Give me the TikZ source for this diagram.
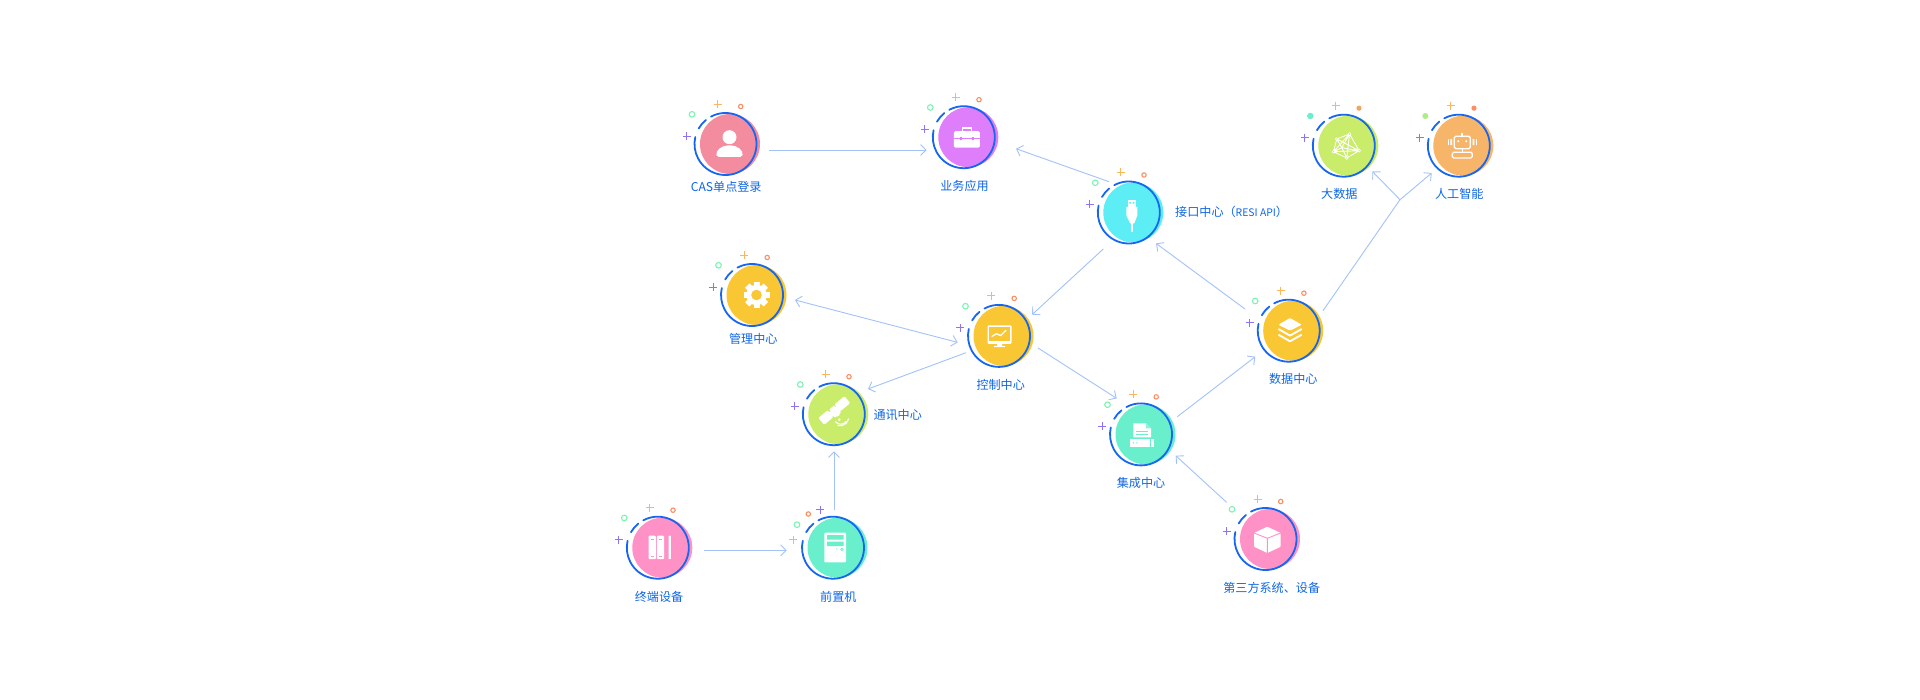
\documentclass[tikz,border=0pt]{standalone}
\usepackage{fontspec}
\setmainfont{Noto Sans CJK SC}
\usetikzlibrary{arrows.meta,calc}
\definecolor{ringblue}{HTML}{1766F0}
\definecolor{txtblue}{HTML}{0F66E8}
\definecolor{linkblue}{HTML}{A3C2FA}
\definecolor{decoyellow}{HTML}{FDB65A}
\definecolor{decoorange}{HTML}{FC8F62}
\definecolor{decogreen}{HTML}{7DF3B6}
\definecolor{decopurple}{HTML}{8E72F7}
\definecolor{cpink}{HTML}{F48CA0}
\definecolor{cviolet}{HTML}{DF7EFB}
\definecolor{ccyan}{HTML}{5DEDF5}
\definecolor{clime}{HTML}{C9EC6B}
\definecolor{capricot}{HTML}{F7B56A}
\definecolor{cgold}{HTML}{F9C733}
\definecolor{crose}{HTML}{FE92C6}
\definecolor{cmint}{HTML}{69EFCC}
\tikzset{
  hubcore/.style={circle,minimum size=62pt,inner sep=0pt,outer sep=0pt},
  hublabel/.style={text=txtblue,font=\fontsize{12.1pt}{14pt}\selectfont,inner sep=0pt},
  link/.style={draw=linkblue,line width=0.9pt,-{Straight Barb[length=5.5pt,width=11pt,line width=0.9pt]}},
  linkplain/.style={draw=linkblue,line width=0.9pt},
  linkboth/.style={draw=linkblue,line width=0.9pt,{Straight Barb[length=5.5pt,width=11pt,line width=0.9pt]}-{Straight Barb[length=5.5pt,width=11pt,line width=0.9pt]}},
  ringarc/.style={draw=ringblue,line width=1.8pt,line cap=round},
  iconline/.style={draw=white,line width=1.3pt,line cap=round,line join=round},
  plusmark/.style={line width=0.9pt}
}
\newcommand{\plusat}[3]{\draw[plusmark,#3] ($(#1,#2)+(-4,0)$) -- ($(#1,#2)+(4,0)$) ($(#1,#2)+(0,-4)$) -- ($(#1,#2)+(0,4)$);}
\newcommand{\decoStd}{%
  \plusat{-8}{-40}{decoyellow}
  \plusat{-39}{-8}{decopurple}
  \draw[decoorange,line width=1.1pt] (15.2,-37.5) circle[radius=2.2pt];
  \draw[decogreen,line width=1.1pt] (-33.5,-29.7) circle[radius=2.8pt];}
\newcommand{\decoFront}{%
  \plusat{-40}{-8}{decoyellow}
  \plusat{-13}{-38}{decopurple}
  \draw[decoorange,line width=1.1pt] (-24.7,-33.7) circle[radius=2.2pt];
  \draw[decogreen,line width=1.1pt] (-36,-23) circle[radius=2.8pt];}
\newcommand{\decoBig}{%
  \plusat{-8}{-40}{decoyellow}
  \plusat{-39}{-8}{decopurple}
  \fill[decoorange!75!clime] (15.2,-37.5) circle[radius=2.6pt];
  \fill[cmint] (-33.5,-29.7) circle[radius=3.2pt];}
\newcommand{\decoBot}{%
  \plusat{-8}{-40}{decoyellow}
  \plusat{-39}{-8}{decopurple}
  \fill[decoorange] (15.2,-37.5) circle[radius=2.6pt];
  \fill[clime!70!cmint] (-33.5,-29.7) circle[radius=3pt];}
\newcommand{\hub}[6]{%
  \node[hubcore] (#1) at (#2,#3) {};
  \begin{scope}[shift={(#1)}]
    \colorlet{hubcol}{#4}
    #5
    \fill[hubcol] (4.5,0) circle[radius=30pt];
    \draw[ringarc] (118:31pt) arc[start angle=118,end angle=-193,radius=31pt];
    \draw[ringarc] (150:31pt) arc[start angle=150,end angle=129,radius=31pt];
    #6
  \end{scope}}
\newcommand{\icoPerson}{%
  \fill[white] (4,-6.8) circle[radius=7pt];
  \fill[white,rounded corners=2pt] (-8.8,13) .. controls (-10,6) and (-3,1.5) .. (4,1.5) .. controls (11,1.5) and (18,6) .. (16.8,13) -- cycle;}
\newcommand{\icoCase}{%
  \draw[white,line width=1.6pt] (-1.5,-6) -- (-1.5,-9) -- (7.5,-9) -- (7.5,-6);
  \fill[white,rounded corners=1.5pt] (-10,-6) rectangle (16,10.5);
  \draw[hubcol,line width=1pt] (-10,1.5) -- (16,1.5);
  \fill[hubcol] (-4,0) rectangle (-2,3) (8,0) rectangle (10,3);}
\newcommand{\icoUsb}{%
  \fill[white] (-1,-12) rectangle (7,-5.5);
  \fill[hubcol] (0.5,-10.5) rectangle (2.1,-8.8) (3.9,-10.5) rectangle (5.5,-8.8);
  \fill[white] (-2.5,-5.5) -- (8.5,-5.5) -- (8.5,3) -- (5.5,11) -- (1.5,11) -- (-2.5,3) -- cycle;
  \fill[white] (1.7,10) rectangle (4.3,20);}
\newcommand{\icoNet}{%
  \coordinate (p1) at (5.7,-11.7); \coordinate (p2) at (-7,-6.7); \coordinate (p3) at (-10.3,6);
  \coordinate (p4) at (3,12.3); \coordinate (p5) at (15.3,5); \coordinate (p6) at (-2,2);
  \draw[iconline,line width=0.9pt] (p1)--(p2)--(p3)--(p4)--(p5)--cycle (p6)--(p1) (p6)--(p2) (p6)--(p3) (p6)--(p5) (p6)--(p4) (p1)--(p3) (p1)--(p4) (p2)--(p5) (p3)--(p5);
  \foreach \q in {p1,p2,p3,p4,p5}{\fill[white] (\q) circle[radius=1.9pt];\fill[hubcol] (\q) circle[radius=0.8pt];}}
\newcommand{\icoBot}{%
  \draw[iconline,rounded corners=1.5pt] (-4.5,-9.5) rectangle (11.5,3);
  \fill[white] (-0.6,-4.5) circle[radius=1.1pt] (7.4,-4.5) circle[radius=1.1pt];
  \fill[white] (2.5,-12.5) rectangle (4.5,-10);
  \draw[iconline] (3.5,3.5) -- (3.5,6.5);
  \draw[iconline,rounded corners=1.5pt] (-6.5,6.5) rectangle (13.5,12.3);
  \fill[white] (-8.5,-6.5) rectangle (-6.7,-0.5) (13.7,-6.5) rectangle (15.5,-0.5);
  \draw[iconline,line width=0.9pt] (-10.3,-6) -- (-10.3,-1) (17.3,-6) -- (17.3,-1);}
\newcommand{\icoGear}{%
  \foreach \a in {0,45,...,315}{\fill[white,rotate around={\a:(4.5,0)}] (1.5,-13) rectangle (7.5,13);}
  \fill[white] (4.5,0) circle[radius=10.2pt];
  \fill[hubcol] (4.5,0) circle[radius=5.3pt];}
\newcommand{\icoScreen}{%
  \fill[white,rounded corners=1pt] (-11.5,-10.5) rectangle (12.5,8);
  \fill[hubcol] (-9.7,-8.7) rectangle (10.7,5);
  \draw[iconline] (-7,0.5) -- (-2.5,-2.2) -- (1.5,-0.3) -- (7,-5.5);
  \fill[white] (-2,8) rectangle (3,10) (-5,10) rectangle (6,11.2);}
\newcommand{\icoSat}{%
  \begin{scope}[shift={(0.5,-3.7)},rotate=40]
    \fill[white,rounded corners=1pt] (-17,-4.5) rectangle (-5,4.5);
    \fill[white,rounded corners=1pt] (4,-4.5) rectangle (17,4.5);
    \fill[white] (-6,-2) rectangle (5,2);
    \fill[white] (-3,-4) rectangle (3,1);
    \fill[white] (-5.5,1.5) arc[start angle=180,end angle=360,radius=5.5pt] -- cycle;
  \end{scope}
  \draw[white,line width=1.1pt] (1.5,7.3) arc[start angle=215,end angle=330,radius=6.5pt];
  \draw[white,line width=1.1pt] (3.5,11.5) arc[start angle=255,end angle=350,radius=9pt];
  \fill[white] (5.5,5.5) circle[radius=1.4pt];}
\newcommand{\icoRacks}{%
  \fill[white,rounded corners=1pt] (-9.3,-12) rectangle (-2,11.5);
  \fill[white,rounded corners=1pt] (-1,-12) rectangle (6.3,11.5);
  \fill[white,rounded corners=0.6pt] (10.7,-12) rectangle (13,11.5);
  \draw[hubcol,line width=0.5pt] (-7,-8.5) -- (-4,-8.5) (1,-8.5) -- (4,-8.5) (-7,8.5) -- (-4,8.5) (1,8.5) -- (4,8.5);}
\newcommand{\icoTower}{%
  \fill[white,rounded corners=1pt] (-8.7,-15) rectangle (13,14.7);
  \fill[hubcol] (-6,-12.5) rectangle (10.5,-8) (-6,-6) rectangle (10.5,-1.5);
  \fill[hubcol] (3.7,1.3) circle[radius=0.7pt];
  \draw[hubcol,line width=0.7pt] (9,1.7) circle[radius=1.3pt];}
\newcommand{\icoLayers}{%
  \fill[white,rounded corners=1pt] (1.3,-12.7) -- (13,-6) -- (1.3,0) -- (-10.3,-6) -- cycle;
  \draw[iconline,line width=1.9pt,line cap=butt] (-10.3,-1.7) -- (1.3,4.9) -- (13,-1.7);
  \draw[iconline,line width=1.9pt,line cap=butt] (-10.3,4) -- (1.3,10.6) -- (13,4);}
\newcommand{\icoFax}{%
  \fill[white] (-7.7,-11) -- (5,-11) -- (10,-6) -- (10,3) -- (-7.7,3) -- cycle;
  \fill[hubcol!75!white] (5,-11) -- (5,-6) -- (10,-6) -- cycle;
  \draw[hubcol,line width=0.6pt] (-5,-3) -- (7,-3) (-5,-0.5) -- (7,-0.5);
  \fill[white] (-11,4.7) rectangle (13,13);
  \fill[hubcol] (-7.5,8.5) circle[radius=0.8pt] (-4,8.5) circle[radius=0.8pt];
  \fill[hubcol] (8.7,4.7) rectangle (9.2,13);}
\newcommand{\icoCube}{%
  \fill[white,rounded corners=0.8pt] (1.8,-12.3) -- (15.2,-6) -- (15.2,7.7) -- (1.8,14) -- (-11.5,7.7) -- (-11.5,-6) -- cycle;
  \draw[hubcol,line width=0.9pt] (-11.5,-6) -- (1.8,-0.7) -- (15.2,-6) (1.8,-0.7) -- (1.8,14);}
\begin{document}
\begin{tikzpicture}[x=1pt,y=-1pt]
\useasboundingbox (0,0) rectangle (1920,700);
\fill[white] (0,0) rectangle (1920,700);
\begin{scope}[shift={(0,0.7)}]
\hub{cas}{725.5}{143.3}{cpink}{\decoStd}{\icoPerson}
\hub{biz}{963.8}{136.5}{cviolet}{\decoStd}{\icoCase}
\hub{api}{1128.8}{211.8}{ccyan}{\decoStd}{\icoUsb}
\hub{big}{1343.8}{145}{clime}{\decoBig}{\icoNet}
\hub{ai}{1458.8}{145}{capricot}{\decoBot}{\icoBot}
\hub{mgmt}{752}{294.3}{cgold}{\decoStd}{\icoGear}
\hub{ctrl}{999}{335.2}{cgold}{\decoStd}{\icoScreen}
\hub{comm}{833.8}{413.5}{clime}{\decoStd}{\icoSat}
\hub{term}{657.8}{547}{crose}{\decoStd}{\icoRacks}
\hub{front}{833}{547}{cmint}{\decoFront}{\icoTower}
\hub{data}{1288.7}{330}{cgold}{\decoStd}{\icoLayers}
\hub{integ}{1141}{433.7}{cmint}{\decoStd}{\icoFax}
\hub{third}{1265.5}{538.3}{crose}{\decoStd}{\icoCube}
\end{scope}
\node[hublabel] (lcas) at (726.2,187) {CAS单点登录};
\node[hublabel] (lbiz) at (964.5,186) {业务应用};
\node[hublabel,anchor=west] (lapi) at (1175,212) {接口中心（{\fontsize{10.4pt}{14pt}\selectfont RESI API}）};
\node[hublabel] (lbig) at (1339.3,194) {大数据};
\node[hublabel] (lai) at (1459.3,194) {人工智能};
\node[hublabel] (lmgmt) at (753.3,338.7) {管理中心};
\node[hublabel] (lctrl) at (1000.7,385) {控制中心};
\node[hublabel] (lcomm) at (897.7,415) {通讯中心};
\node[hublabel] (lterm) at (659,597.3) {终端设备};
\node[hublabel] (lfront) at (838.3,597.3) {前置机};
\node[hublabel] (ldata) at (1293.3,378.7) {数据中心};
\node[hublabel] (linteg) at (1141,482.7) {集成中心};
\node[hublabel] (lthird) at (1271.7,588) {第三方系统、设备};
\coordinate (fork) at (1400,199.7);
\draw[link] ($(cas)+(43.8,6)$) -- ($(biz)+(-37.1,12.8)$);
\draw[link] ($(api)+(-19.8,-30.8)$) -- ($(biz)+(52.2,11.5)$);
\draw[link] ($(api)+(-25.5,36.5)$) -- ($(ctrl)+(33,-21.2)$);
\draw[link] ($(data)+(-43.7,-21.7)$) -- ($(api)+(27.2,30.9)$);
\draw[linkboth] ($(mgmt)+(43,5)$) -- ($(ctrl)+(-41.3,6.5)$);
\draw[link] ($(ctrl)+(-33,16.8)$) -- ($(comm)+(34.2,-25.2)$);
\draw[link] ($(ctrl)+(39,12.1)$) -- ($(integ)+(-24.3,-36)$);
\draw[link] ($(integ)+(36.3,-17.7)$) -- ($(data)+(-33.4,26)$);
\draw[link] ($(third)+(-38.8,-36.6)$) -- ($(integ)+(34.7,21.3)$);
\draw[link] ($(front)+(1,-38)$) -- ($(comm)+(0.2,37.1)$);
\draw[link] ($(term)+(46.5,2.7)$) -- ($(front)+(-46.3,2.7)$);
\draw[linkplain] ($(data)+(34.3,-20)$) -- (fork);
\draw[link] (fork) -- ($(big)+(28.5,25.7)$);
\draw[link] (fork) -- ($(ai)+(-27.1,27.3)$);
\end{tikzpicture}
\end{document}
